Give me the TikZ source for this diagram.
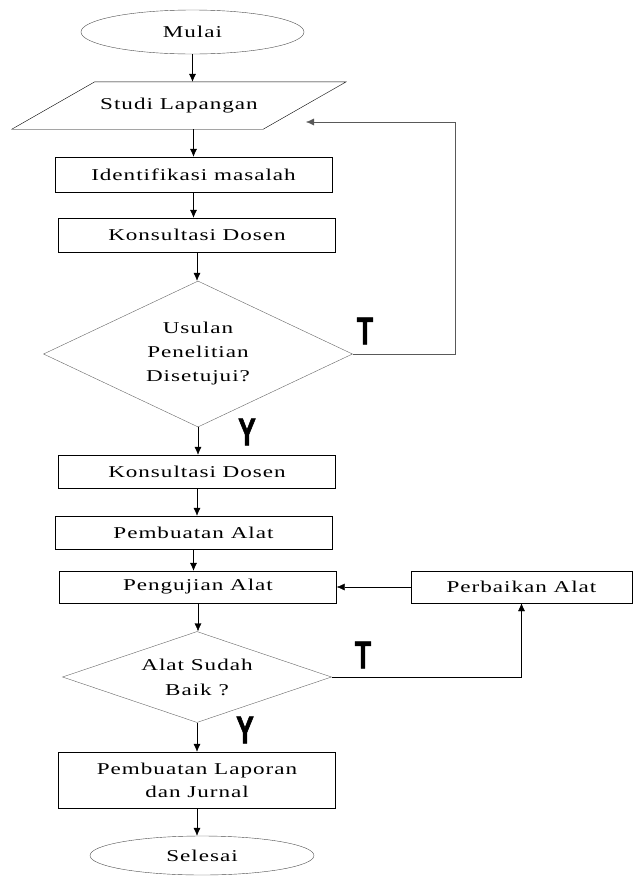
\documentclass[tikz,border=0pt]{standalone}
\usepackage{fontspec}
\setmainfont{Liberation Serif}[FakeStretch=1.4,LetterSpace=6]
\newfontfamily\yesno{Liberation Sans}[UprightFont=* Bold,FakeStretch=0.68,FakeBold=1.5]
\usetikzlibrary{shapes.geometric,arrows.meta}

\tikzset{
  proses/.style={draw,rectangle,inner sep=0pt,minimum width=277pt,minimum height=34pt},
  terminal/.style={draw=black!70,ellipse,inner sep=0pt,minimum width=223pt,minimum height=44pt},
  keputusan/.style={draw=black!60,diamond,inner sep=0pt,align=center},
  jawab/.style={font=\yesno\fontsize{39}{39}\selectfont,inner sep=0pt},
}

\begin{document}
\begin{tikzpicture}[x=1pt,y=-1pt,>={Latex[length=8pt,width=7pt]},
  font=\fontsize{16.5}{24}\selectfont]
\useasboundingbox (0,0) rectangle (634,876);

\node[terminal] (mulai) at (192.5,32) {Mulai};
\node[minimum width=251pt,minimum height=47pt,inner sep=0pt] (studi) at (179,105.5) {Studi Lapangan};
\draw ([xshift=41.5pt]studi.north west) -- ([xshift=41.5pt]studi.north east)
  -- ([xshift=-41.5pt]studi.south east) -- ([xshift=-41.5pt]studi.south west) -- cycle;
\node[proses,minimum height=35pt] (iden) at (193.5,174.5) {Identifikasi masalah};
\node[proses] (kons1) at (197,235) {Konsultasi Dosen};
\node[keputusan,aspect=2.1,minimum width=309pt,minimum height=146pt] (cek1) at (198,354)
  {Usulan\\Penelitian\\Disetujui?};
\node[proses,minimum height=33pt] (kons2) at (197,471.5) {Konsultasi Dosen};
\node[proses,minimum height=33pt] (buat) at (193.5,532.5) {Pembuatan Alat};
\node[proses,minimum height=32pt] (uji) at (198,587) {Pengujian Alat};
\node[proses,minimum width=221pt,minimum height=32pt] (baiki) at (521.5,587) {Perbaikan Alat};
\node[keputusan,aspect=3,minimum width=269pt,minimum height=91pt,
  font=\fontsize{16.5}{25}\selectfont] (cek2) at (197,677) {Alat Sudah\\Baik ?};
\node[proses,minimum height=56pt,align=center,font=\fontsize{16.5}{23}\selectfont] (lapor) at (197,780)
  {Pembuatan Laporan\\dan Jurnal};
\node[terminal,minimum width=224pt,minimum height=39pt] (selesai) at (202,855.5) {Selesai};

\node[jawab] (t1) at (365,331) {T};
\node[jawab] (y1) at (247,432) {Y};
\node[jawab] (t2) at (363,655) {T};
\node[jawab] (y2) at (245,730) {Y};

% alur utama
\draw[->] (mulai.south) -- (mulai.south |- studi.north);
\draw[->] (studi.south -| iden.north) -- (iden.north);
\draw[->] (iden.south) -- (iden.south |- kons1.north);
\draw[->] (kons1.south) -- (kons1.south |- cek1.north);
\draw[->] (cek1.south) -- (cek1.south |- kons2.north);
\draw[->] (kons2.south) -- (kons2.south |- buat.north);
\draw[->] (buat.south) -- (buat.south |- uji.north);
\draw[->] (uji.south) -- (uji.south |- cek2.north);
\draw[->] (cek2.south) -- (cek2.south |- lapor.north);
\draw[->] (lapor.south) -- (lapor.south |- selesai.north);

% umpan balik
\coordinate (sudut) at (455,122);
\coordinate (ujung) at (306,122);
\draw[->,draw=black!65] (cek1.east) -| (sudut) -- (ujung);
\draw[->] (cek2.east) -| (baiki.south);
\draw[->] (baiki.west) -- (uji.east);
\end{tikzpicture}
\end{document}
